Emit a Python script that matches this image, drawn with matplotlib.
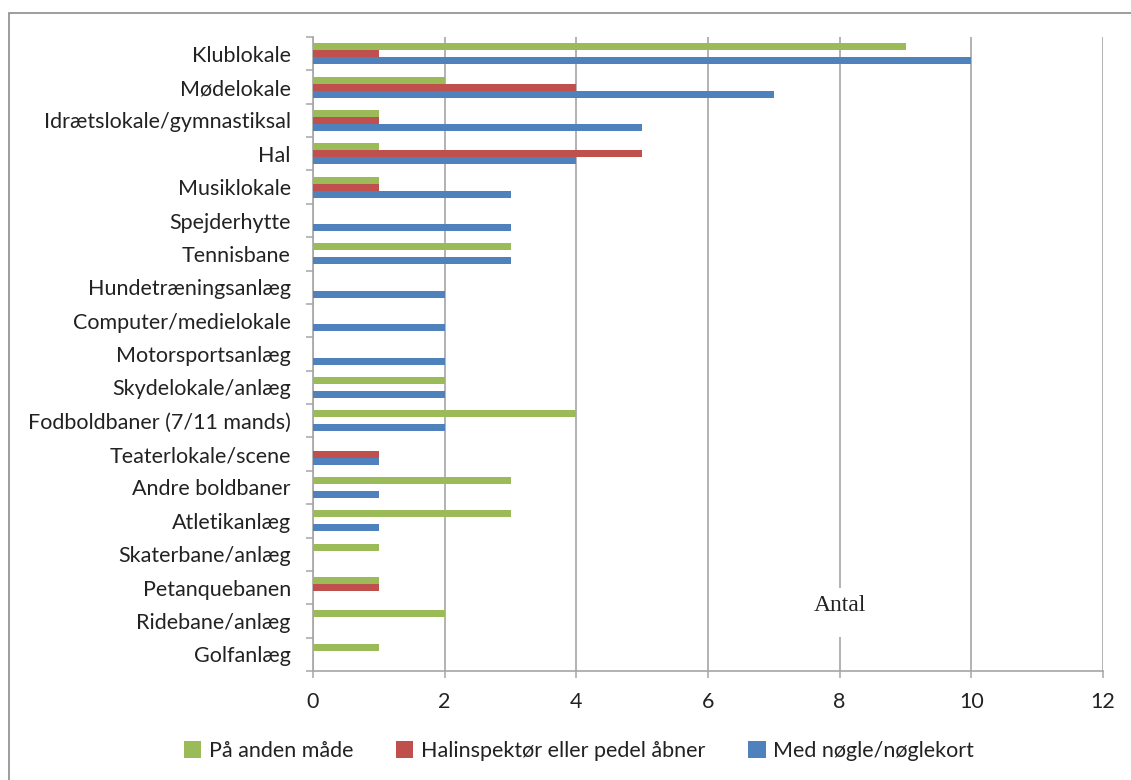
import matplotlib.pyplot as plt
import numpy as np
from matplotlib.patches import Patch, Rectangle

categories = [
    "Klublokale", "Mødelokale", "Idrætslokale/gymnastiksal", "Hal", "Musiklokale",
    "Spejderhytte", "Tennisbane", "Hundetræningsanlæg", "Computer/medielokale",
    "Motorsportsanlæg", "Skydelokale/anlæg", "Fodboldbaner (7/11 mands)",
    "Teaterlokale/scene", "Andre boldbaner", "Atletikanlæg", "Skaterbane/anlæg",
    "Petanquebanen", "Ridebane/anlæg", "Golfanlæg",
]
anden_maade = [9, 2, 1, 1, 1, 0, 3, 0, 0, 0, 2, 4, 0, 3, 3, 1, 1, 2, 1]
halinspektor = [1, 4, 1, 5, 1, 0, 0, 0, 0, 0, 0, 0, 1, 0, 0, 0, 1, 0, 0]
noegle = [10, 7, 5, 4, 3, 3, 3, 2, 2, 2, 2, 2, 1, 1, 1, 0, 0, 0, 0]
series_labels = ["På anden måde", "Halinspektør eller pedel åbner", "Med nøgle/nøglekort"]
colors = ["#9BBB59", "#C0504D", "#4F81BD"]
x_ticks = [0, 2, 4, 6, 8, 10, 12]

W, H = 1131, 780
text_color = "#222222"
grid_color = "#A6A6A6"
fs = 15.5
plt.rcParams["font.family"] = ["Lato", "DejaVu Sans"]

fig = plt.figure(figsize=(W / 100, H / 100), dpi=100)
# outer chart border (only left and top edges fall inside the image)
fig.patches.append(Rectangle((8.5 / W, -0.1), 1.2, (780 - 12.5) / H + 0.1,
                             transform=fig.transFigure, fill=False,
                             edgecolor="#8C8C8C", linewidth=1.2))

ax = fig.add_axes([313 / W, (H - 671) / H, (1103 - 313) / W, (671 - 37) / H])

y = np.arange(len(categories))
h = 0.21
ax.barh(y - h, anden_maade, height=h, color=colors[0], zorder=3)
ax.barh(y, halinspektor, height=h, color=colors[1], zorder=3)
ax.barh(y + h, noegle, height=h, color=colors[2], zorder=3)

ax.set_xlim(0, 12)
ax.set_ylim(len(categories) - 0.5, -0.5)
ax.set_xticks(x_ticks)
ax.set_yticks(y)
ax.set_yticklabels(categories)
ax.set_yticks(np.arange(-0.5, len(categories), 1), minor=True)
ax.tick_params(axis="y", which="major", length=0, pad=16, labelsize=fs, labelcolor=text_color)
ax.tick_params(axis="y", which="minor", length=5, width=1.1, color=grid_color, direction="out")
ax.tick_params(axis="x", length=5, width=1.1, color=grid_color, pad=10, labelsize=fs,
               labelcolor=text_color)

ax.xaxis.grid(True, color=grid_color, linewidth=1.2, zorder=0)
for side in ["top", "right"]:
    ax.spines[side].set_visible(False)
for side in ["left", "bottom"]:
    ax.spines[side].set_color(grid_color)
    ax.spines[side].set_linewidth(1.2)

# axis title box sitting on top of the gridline at 8
ax.add_patch(Rectangle((7.75, (588 - 37) / 33.37 - 0.5), 0.5, 49 / 33.37,
                       facecolor="white", edgecolor="none", zorder=4))
ax.text(8, 16.55, "Antal", ha="center", va="center", fontsize=17,
        family="Liberation Serif", color=text_color, zorder=5)

handles = [Patch(facecolor=c, edgecolor="none") for c in colors]
fig.legend(handles, series_labels, loc="center", bbox_to_anchor=(579 / W, (H - 751) / H),
           ncol=3, frameon=False, fontsize=fs, handlelength=0.8, handleheight=0.8,
           handletextpad=0.35, columnspacing=2.0, labelcolor=text_color)

fig.savefig("out.png", dpi=100)
